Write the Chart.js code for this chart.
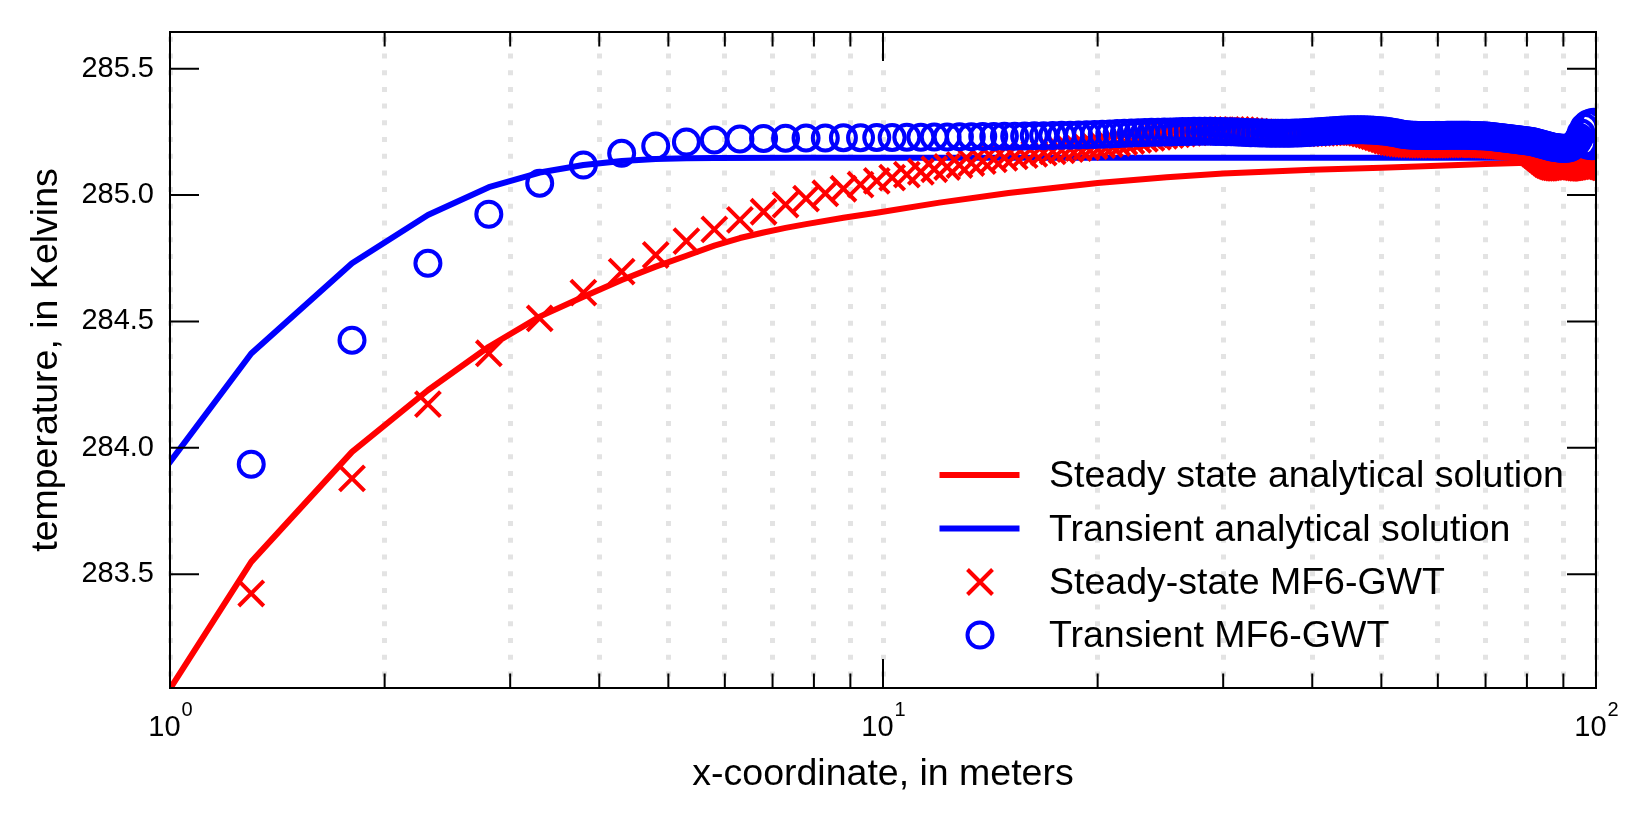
<!DOCTYPE html>
<html>
<head>
<meta charset="utf-8">
<title>Temperature profile</title>
<script src="https://cdn.jsdelivr.net/npm/chart.js@4.4.1/dist/chart.umd.min.js"></script>
<style>
  html, body { margin: 0; padding: 0; background: #fff; }
  #wrap { width: 1650px; height: 825px; }
</style>
</head>
<body>
<div id="wrap"><canvas id="tempChart" width="1650" height="825"></canvas></div>
<script>
// Cell centres of the model grid (m)
const cellX = [
  1.3, 1.8, 2.3, 2.8, 3.3, 3.8, 4.3, 4.8, 5.3, 5.8,
  6.3, 6.8, 7.3, 7.8, 8.3, 8.8, 9.3, 9.8, 10.3, 10.8,
  11.3, 11.8, 12.3, 12.8, 13.3, 13.8, 14.3, 14.8, 15.3, 15.8,
  16.3, 16.8, 17.3, 17.8, 18.3, 18.8, 19.3, 19.8, 20.3, 20.8,
  21.3, 21.8, 22.3, 22.8, 23.3, 23.8, 24.3, 24.8, 25.3, 25.8,
  26.3, 26.8, 27.3, 27.8, 28.3, 28.8, 29.3, 29.8, 30.3, 30.8,
  31.3, 31.8, 32.3, 32.8, 33.3, 33.8, 34.3, 34.8, 35.3, 35.8,
  36.3, 36.8, 37.3, 37.8, 38.3, 38.8, 39.3, 39.8, 40.3, 40.8,
  41.3, 41.8, 42.3, 42.8, 43.3, 43.8, 44.3, 44.8, 45.3, 45.8,
  46.3, 46.8, 47.3, 47.8, 48.3, 48.8, 49.3, 49.8, 50.3, 50.8,
  51.3, 51.8, 52.3, 52.8, 53.3, 53.8, 54.3, 54.8, 55.3, 55.8,
  56.3, 56.8, 57.3, 57.8, 58.3, 58.8, 59.3, 59.8, 60.3, 60.8,
  61.3, 61.8, 62.3, 62.8, 63.3, 63.8, 64.3, 64.8, 65.3, 65.8,
  66.3, 66.8, 67.3, 67.8, 68.3, 68.8, 69.3, 69.8, 70.3, 70.8,
  71.3, 71.8, 72.3, 72.8, 73.3, 73.8, 74.3, 74.8, 75.3, 75.8,
  76.3, 76.8, 77.3, 77.8, 78.3, 78.8, 79.3, 79.8, 80.3, 80.8,
  81.3, 81.8, 82.3, 82.8, 83.3, 83.8, 84.3, 84.8, 85.3, 85.8,
  86.3, 86.8, 87.3, 87.8, 88.3, 88.8, 89.3, 89.8, 90.3, 90.8,
  91.3, 91.8, 92.3, 92.8, 93.3, 93.8, 94.3, 94.8, 95.3, 95.8,
  96.3, 96.8, 97.3, 97.8, 98.3, 98.8, 99.3, 99.8
];

// Steady-state MF6-GWT temperatures (K)
const steadyMf6 = [
  283.424, 283.879, 284.173, 284.374, 284.512, 284.614, 284.697, 284.763, 284.818, 284.864,
  284.902, 284.934, 284.962, 284.986, 285.007, 285.025, 285.041, 285.056, 285.069, 285.081,
  285.092, 285.102, 285.111, 285.119, 285.127, 285.134, 285.141, 285.147, 285.153, 285.158,
  285.163, 285.168, 285.173, 285.177, 285.182, 285.186, 285.190, 285.194, 285.198, 285.202,
  285.206, 285.210, 285.214, 285.218, 285.222, 285.226, 285.230, 285.234, 285.237, 285.240,
  285.243, 285.246, 285.248, 285.250, 285.252, 285.254, 285.256, 285.257, 285.258, 285.258,
  285.258, 285.257, 285.255, 285.253, 285.251, 285.249, 285.248, 285.247, 285.246, 285.245,
  285.245, 285.244, 285.244, 285.244, 285.244, 285.244, 285.244, 285.245, 285.245, 285.246,
  285.246, 285.247, 285.248, 285.249, 285.250, 285.250, 285.251, 285.251, 285.250, 285.249,
  285.248, 285.246, 285.243, 285.240, 285.236, 285.232, 285.228, 285.224, 285.220, 285.216,
  285.213, 285.210, 285.208, 285.206, 285.204, 285.203, 285.202, 285.201, 285.200, 285.200,
  285.200, 285.199, 285.199, 285.199, 285.199, 285.199, 285.199, 285.199, 285.200, 285.200,
  285.200, 285.200, 285.201, 285.201, 285.201, 285.201, 285.202, 285.202, 285.202, 285.202,
  285.202, 285.202, 285.202, 285.201, 285.201, 285.201, 285.200, 285.200, 285.199, 285.199,
  285.198, 285.198, 285.197, 285.196, 285.196, 285.195, 285.194, 285.193, 285.192, 285.191,
  285.190, 285.190, 285.189, 285.189, 285.188, 285.187, 285.185, 285.182, 285.178, 285.174,
  285.169, 285.164, 285.158, 285.152, 285.146, 285.140, 285.134, 285.128, 285.123, 285.119,
  285.116, 285.113, 285.111, 285.110, 285.109, 285.108, 285.108, 285.108, 285.108, 285.108,
  285.109, 285.110, 285.111, 285.112, 285.113, 285.114, 285.115, 285.114, 285.112, 285.110,
  285.109, 285.108, 285.108, 285.109, 285.110, 285.111, 285.112, 285.113
];

// Transient MF6-GWT temperatures (K)
const transientMf6 = [
  283.935, 284.426, 284.730, 284.924, 285.047, 285.119, 285.165, 285.194, 285.210, 285.218,
  285.222, 285.224, 285.225, 285.226, 285.226, 285.227, 285.227, 285.228, 285.228, 285.229,
  285.229, 285.230, 285.230, 285.231, 285.231, 285.232, 285.232, 285.233, 285.233, 285.234,
  285.235, 285.235, 285.236, 285.237, 285.237, 285.238, 285.239, 285.240, 285.241, 285.242,
  285.243, 285.244, 285.245, 285.246, 285.247, 285.248, 285.248, 285.249, 285.249, 285.250,
  285.251, 285.251, 285.252, 285.252, 285.252, 285.252, 285.251, 285.251, 285.250, 285.250,
  285.249, 285.248, 285.247, 285.246, 285.246, 285.245, 285.245, 285.244, 285.244, 285.244,
  285.244, 285.244, 285.244, 285.245, 285.245, 285.246, 285.247, 285.248, 285.249, 285.250,
  285.251, 285.252, 285.253, 285.254, 285.255, 285.256, 285.257, 285.257, 285.258, 285.258,
  285.258, 285.258, 285.258, 285.257, 285.257, 285.256, 285.255, 285.254, 285.253, 285.252,
  285.250, 285.248, 285.246, 285.244, 285.242, 285.240, 285.239, 285.238, 285.237, 285.237,
  285.236, 285.236, 285.236, 285.236, 285.236, 285.236, 285.236, 285.236, 285.236, 285.236,
  285.236, 285.237, 285.237, 285.237, 285.237, 285.237, 285.237, 285.237, 285.237, 285.237,
  285.237, 285.236, 285.236, 285.236, 285.235, 285.235, 285.235, 285.234, 285.234, 285.233,
  285.232, 285.231, 285.230, 285.229, 285.228, 285.227, 285.226, 285.225, 285.224, 285.223,
  285.222, 285.221, 285.220, 285.219, 285.218, 285.217, 285.216, 285.215, 285.214, 285.213,
  285.212, 285.210, 285.208, 285.206, 285.204, 285.202, 285.200, 285.198, 285.196, 285.194,
  285.192, 285.190, 285.189, 285.188, 285.187, 285.186, 285.185, 285.185, 285.185, 285.185,
  285.186, 285.187, 285.190, 285.194, 285.200, 285.207, 285.216, 285.228, 285.245, 285.205,
  285.268, 285.200, 285.280, 285.196, 285.285, 285.195, 285.288, 285.198
];

// Analytical solutions (K)
const steadyLineX = [0.8, 1.3, 1.8, 2.3, 2.8, 3.3, 3.8, 4.3, 4.8, 5.3, 5.8, 6.3, 6.8, 7.3, 7.8,
  8.8, 9.8, 12, 15, 20, 25, 30, 40, 50, 60, 70, 80, 90, 100];
const steadyLineT = [282.620, 283.549, 283.984, 284.228, 284.400, 284.519, 284.598, 284.664, 284.717,
  284.760, 284.800, 284.830, 284.852, 284.870, 284.885, 284.910, 284.930, 284.970, 285.008,
  285.048, 285.070, 285.085, 285.100, 285.108, 285.116, 285.123, 285.128, 285.131, 285.134];
const transientLineX = [0.8, 1.3, 1.8, 2.3, 2.8, 3.3, 3.8, 4.3, 4.8, 5.3, 5.8, 7.8, 10, 100];
const transientLineT = [283.580, 284.373, 284.730, 284.921, 285.031, 285.089, 285.119, 285.135,
  285.143, 285.146, 285.147, 285.148, 285.148, 285.148];

// Axis ticks
const xTicks = [1, 2, 3, 4, 5, 6, 7, 8, 9, 10, 20, 30, 40, 50, 60, 70, 80, 90, 100];
const xMajor = [1, 10, 100];
const xTickLabels = [['10', '0'], ['10', '1'], ['10', '2']];
const yTicks = [283.5, 284.0, 284.5, 285.0, 285.5];

const legendLabels = [
  'Steady state analytical solution',
  'Transient analytical solution',
  'Steady-state MF6-GWT',
  'Transient MF6-GWT'
];

const RED = '#ff0000';
const BLUE = '#0000ff';
const FONT = '"Liberation Sans", Arial, Helvetica, sans-serif';

Chart.defaults.font.family = FONT;
Chart.defaults.color = '#000';

const toPoints = (xs, ys) => xs.map((x, i) => ({ x: x, y: ys[i] }));

// Frame, inward ticks, power-of-ten labels and the legend
const decorPlugin = {
  id: 'decor',
  afterDatasetsDraw(chart) {
    const { ctx, chartArea: a, scales: { x, y } } = chart;
    ctx.save();
    ctx.strokeStyle = '#000';
    ctx.lineWidth = 2;
    ctx.strokeRect(a.left, a.top, a.right - a.left, a.bottom - a.top);

    ctx.beginPath();
    xTicks.forEach(v => {
      const px = x.getPixelForValue(v);
      const len = xMajor.includes(v) ? 29 : 14.5;
      ctx.moveTo(px, a.bottom); ctx.lineTo(px, a.bottom - len);
      ctx.moveTo(px, a.top); ctx.lineTo(px, a.top + len);
    });
    yTicks.forEach(v => {
      const py = y.getPixelForValue(v);
      ctx.moveTo(a.left, py); ctx.lineTo(a.left + 29, py);
      ctx.moveTo(a.right, py); ctx.lineTo(a.right - 29, py);
    });
    ctx.stroke();

    // x tick labels, 10 with a raised exponent
    ctx.fillStyle = '#000';
    ctx.textAlign = 'left';
    ctx.textBaseline = 'alphabetic';
    xMajor.forEach((v, i) => {
      const [base, exp] = xTickLabels[i];
      ctx.font = '29px ' + FONT;
      const wb = ctx.measureText(base).width;
      ctx.font = '20px ' + FONT;
      const we = ctx.measureText(exp).width;
      const left = x.getPixelForValue(v) - (wb + we) / 2;
      ctx.font = '29px ' + FONT;
      ctx.fillText(base, left, 736);
      ctx.font = '20px ' + FONT;
      ctx.fillText(exp, left + wb + 1, 716);
    });

    // legend
    const rows = [475, 528.5, 582, 635];
    const hx = 980;
    ctx.lineCap = 'butt';
    ctx.lineWidth = 6;
    ctx.strokeStyle = RED;
    ctx.beginPath(); ctx.moveTo(939.5, rows[0]); ctx.lineTo(1019.5, rows[0]); ctx.stroke();
    ctx.strokeStyle = BLUE;
    ctx.beginPath(); ctx.moveTo(939.5, rows[1]); ctx.lineTo(1019.5, rows[1]); ctx.stroke();
    ctx.lineWidth = 4;
    ctx.strokeStyle = RED;
    ctx.beginPath();
    ctx.moveTo(hx - 12.5, rows[2] - 12.5); ctx.lineTo(hx + 12.5, rows[2] + 12.5);
    ctx.moveTo(hx + 12.5, rows[2] - 12.5); ctx.lineTo(hx - 12.5, rows[2] + 12.5);
    ctx.stroke();
    ctx.strokeStyle = BLUE;
    ctx.beginPath(); ctx.arc(hx, rows[3], 12.5, 0, Math.PI * 2); ctx.stroke();

    ctx.font = '37.5px ' + FONT;
    ctx.textBaseline = 'middle';
    legendLabels.forEach((t, i) => ctx.fillText(t, 1049, rows[i] + 2));
    ctx.restore();
  }
};

const ctx = document.getElementById('tempChart').getContext('2d');

new Chart(ctx, {
  type: 'scatter',
  data: {
    datasets: [
      {
        label: legendLabels[0],
        data: toPoints(steadyLineX, steadyLineT),
        showLine: true,
        borderColor: RED,
        borderWidth: 6,
        borderJoinStyle: 'round',
        pointRadius: 0,
        clip: 0,
        order: 4
      },
      {
        label: legendLabels[1],
        data: toPoints(transientLineX, transientLineT),
        showLine: true,
        borderColor: BLUE,
        borderWidth: 6,
        borderJoinStyle: 'round',
        pointRadius: 0,
        clip: 0,
        order: 3
      },
      {
        label: legendLabels[2],
        data: toPoints(cellX, steadyMf6),
        showLine: false,
        pointStyle: 'crossRot',
        pointRadius: 17.7,
        pointBorderWidth: 4,
        pointBorderColor: RED,
        pointBackgroundColor: 'rgba(0,0,0,0)',
        clip: 0,
        order: 2
      },
      {
        label: legendLabels[3],
        data: toPoints(cellX, transientMf6),
        showLine: false,
        pointStyle: 'circle',
        pointRadius: 12.5,
        pointBorderWidth: 4,
        pointBorderColor: BLUE,
        pointBackgroundColor: 'rgba(0,0,0,0)',
        clip: 0,
        order: 1
      }
    ]
  },
  options: {
    responsive: false,
    devicePixelRatio: 1,
    animation: false,
    events: [],
    layout: { padding: { top: 32, right: 54, left: 0, bottom: 0 } },
    plugins: {
      legend: { display: false },
      tooltip: { enabled: false }
    },
    scales: {
      x: {
        type: 'logarithmic',
        position: 'bottom',
        min: 1,
        max: 100,
        afterBuildTicks: scale => { scale.ticks = xTicks.map(v => ({ value: v })); },
        afterFit: scale => { scale.height = 137; },
        ticks: { display: false },
        grid: { color: '#e3e3e3', lineWidth: 5, drawTicks: false },
        border: { display: false, dash: [5, 11.7], dashOffset: 11.9 },
        title: {
          display: true,
          text: 'x-coordinate, in meters',
          font: { size: 37.5 },
          color: '#000',
          padding: { top: 0, bottom: 27.5 }
        }
      },
      y: {
        type: 'linear',
        position: 'left',
        min: 283.05,
        max: 285.645,
        afterBuildTicks: scale => { scale.ticks = yTicks.map(v => ({ value: v })); },
        afterFit: scale => { scale.width = 170; scale.paddingTop = 0; scale.paddingBottom = 0; },
        ticks: {
          font: { size: 29 },
          color: '#000',
          padding: 16,
          callback: v => Number(v).toFixed(1)
        },
        grid: { display: false, drawTicks: false },
        border: { display: false },
        title: {
          display: true,
          text: 'temperature, in Kelvins',
          font: { size: 37.5 },
          color: '#000',
          padding: { top: 24, bottom: 0 }
        }
      }
    }
  },
  plugins: [decorPlugin]
});
</script>
</body>
</html>
